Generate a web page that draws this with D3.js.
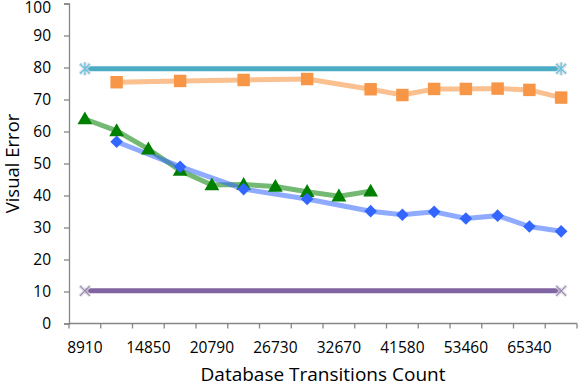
<!DOCTYPE html>
<html>
<head>
<meta charset="utf-8">
<script src="https://cdn.jsdelivr.net/npm/d3@7"></script>
<style>
  body { margin: 0; background: #fff; }
  svg { display: block; font-family: "Open Sans", sans-serif; }
</style>
</head>
<body>
<svg id="chart" width="578" height="386"></svg>
<script>
// categories on the x axis (Excel category axis, every other one labelled)
const categories = [8910, 11880, 14850, 17820, 20790, 23760, 26730, 29700,
  32670, 35640, 41580, 47520, 53460, 59400, 65340, 71280];
const tickLabels = [8910, 14850, 20790, 26730, 32670, 41580, 53460, 65340];
const yTicks = [0, 10, 20, 30, 40, 50, 60, 70, 80, 90, 100];

// series values, null where a category has no point
const upperBound = [79.6, null, null, null, null, null, null, null,
  null, null, null, null, null, null, null, 79.6];
const orangeSeries = [null, 75.4, null, 75.8, null, 76.1, null, 76.4,
  null, 73.2, 71.4, 73.3, 73.3, 73.4, 73.0, 70.6];
const greenSeries = [63.9, 60.2, 54.5, 47.8, 43.3, 43.4, 42.8, 41.2,
  39.8, 41.3, null, null, null, null, null, null];
const blueSeries = [null, 56.8, null, 49.0, null, 42.0, null, 38.9,
  null, 35.1, 34.0, 34.9, 32.8, 33.7, 30.3, 28.8];
const lowerBound = [10.2, null, null, null, null, null, null, null,
  null, null, null, null, null, null, null, 10.2];

const svg = d3.select("#chart");
const plotLeft = 69, plotRight = 577, plotTop = 3.5, plotBottom = 323.5;

const x = d3.scaleBand().domain(categories).range([plotLeft, plotRight]);
const y = d3.scaleLinear().domain([0, 100]).range([plotBottom, plotTop]);
const cx = d => x(d) + x.bandwidth() / 2;

// y axis
const yAxis = svg.append("g")
    .attr("transform", `translate(${plotLeft},0)`)
    .call(d3.axisLeft(y).tickValues(yTicks).tickSize(5).tickPadding(13));
yAxis.select(".domain").attr("stroke", "#868686").attr("stroke-width", 1.3);
yAxis.selectAll(".tick line").attr("stroke", "#868686").attr("stroke-width", 1.3);
yAxis.selectAll(".tick text")
    .attr("font-size", 15.5)
    .attr("font-family", "Open Sans, sans-serif")
    .attr("fill", "#000");
// keep the top label inside the picture
yAxis.selectAll(".tick text").filter(d => d === 100).attr("dy", "0.55em");

// x axis: line, ticks between categories, labels on every other category
const xAxis = svg.append("g");
xAxis.append("line")
    .attr("x1", plotLeft).attr("x2", plotRight)
    .attr("y1", plotBottom).attr("y2", plotBottom)
    .attr("stroke", "#868686").attr("stroke-width", 1.3);
xAxis.selectAll("line.tick")
    .data(categories.concat(["end"]))
  .enter().append("line")
    .attr("class", "tick")
    .attr("x1", d => d === "end" ? plotRight : x(d))
    .attr("x2", d => d === "end" ? plotRight : x(d))
    .attr("y1", plotBottom).attr("y2", plotBottom + 5)
    .attr("stroke", "#868686").attr("stroke-width", 1.3);
xAxis.selectAll("text")
    .data(tickLabels)
  .enter().append("text")
    .attr("x", d => cx(d))
    .attr("y", 353)
    .attr("text-anchor", "middle")
    .attr("font-size", 15.5)
    .text(d => d);

// axis titles
svg.append("text")
    .attr("x", (plotLeft + plotRight) / 2)
    .attr("y", 381)
    .attr("text-anchor", "middle")
    .attr("font-size", 19)
    .text("Database Transitions Count");
svg.append("text")
    .attr("transform", `translate(19,${(plotTop + plotBottom) / 2}) rotate(-90)`)
    .attr("text-anchor", "middle")
    .attr("font-size", 18.5)
    .text("Visual Error");

// series
const series = [
  { values: upperBound, line: "#4bacc6", opacity: 1, marker: "star", color: "#4bacc6" },
  { values: orangeSeries, line: "#f79646", opacity: 0.6, marker: "square", color: "#f79646" },
  { values: greenSeries, line: "#008000", opacity: 0.55, marker: "triangle", color: "#008000" },
  { values: blueSeries, line: "#3366ff", opacity: 0.55, marker: "diamond", color: "#3366ff" },
  { values: lowerBound, line: "#8064a2", opacity: 1, marker: "cross", color: "#8064a2" }
];

const pointsOf = s => categories
    .map((c, i) => ({ c, v: s.values[i] }))
    .filter(p => p.v !== null);

const line = d3.line().x(p => cx(p.c)).y(p => y(p.v));

svg.append("g").selectAll("path")
    .data(series)
  .enter().append("path")
    .attr("d", s => line(pointsOf(s)))
    .attr("fill", "none")
    .attr("stroke", s => s.line)
    .attr("stroke-opacity", s => s.opacity)
    .attr("stroke-width", 5);

const shapes = {
  square: { sym: d3.symbol(d3.symbolSquare, 155), rot: 0, dy: 0 },
  triangle: { sym: d3.symbol(d3.symbolTriangle, 95), rot: 0, dy: 1 },
  diamond: { sym: d3.symbol(d3.symbolSquare, 80), rot: 45, dy: 0 }
};

series.forEach(s => {
  const g = svg.append("g");
  const pts = pointsOf(s);
  if (s.marker === "star" || s.marker === "cross") {
    const r = 5;
    const path = s.marker === "star"
      ? `M${-r},${-r}L${r},${r}M${-r},${r}L${r},${-r}M0,${-r * 1.3}L0,${r * 1.3}`
      : `M${-r},${-r}L${r},${r}M${-r},${r}L${r},${-r}`;
    g.selectAll("path.halo")
        .data(pts)
      .enter().append("path")
        .attr("transform", p => `translate(${cx(p.c)},${y(p.v)})`)
        .attr("d", path)
        .attr("stroke", "#ddd")
        .attr("stroke-width", 4)
        .attr("stroke-opacity", 0.7);
    g.selectAll("path.mark")
        .data(pts)
      .enter().append("path")
        .attr("transform", p => `translate(${cx(p.c)},${y(p.v)})`)
        .attr("d", path)
        .attr("stroke", s.marker === "star" ? "#6cc0e0" : "#9a88b8")
        .attr("stroke-width", 1.3);
  } else {
    const shape = shapes[s.marker];
    g.selectAll("path")
        .data(pts)
      .enter().append("path")
        .attr("transform", p => `translate(${cx(p.c)},${y(p.v) + shape.dy}) rotate(${shape.rot})`)
        .attr("d", shape.sym())
        .attr("fill", s.color);
  }
});
</script>
</body>
</html>
